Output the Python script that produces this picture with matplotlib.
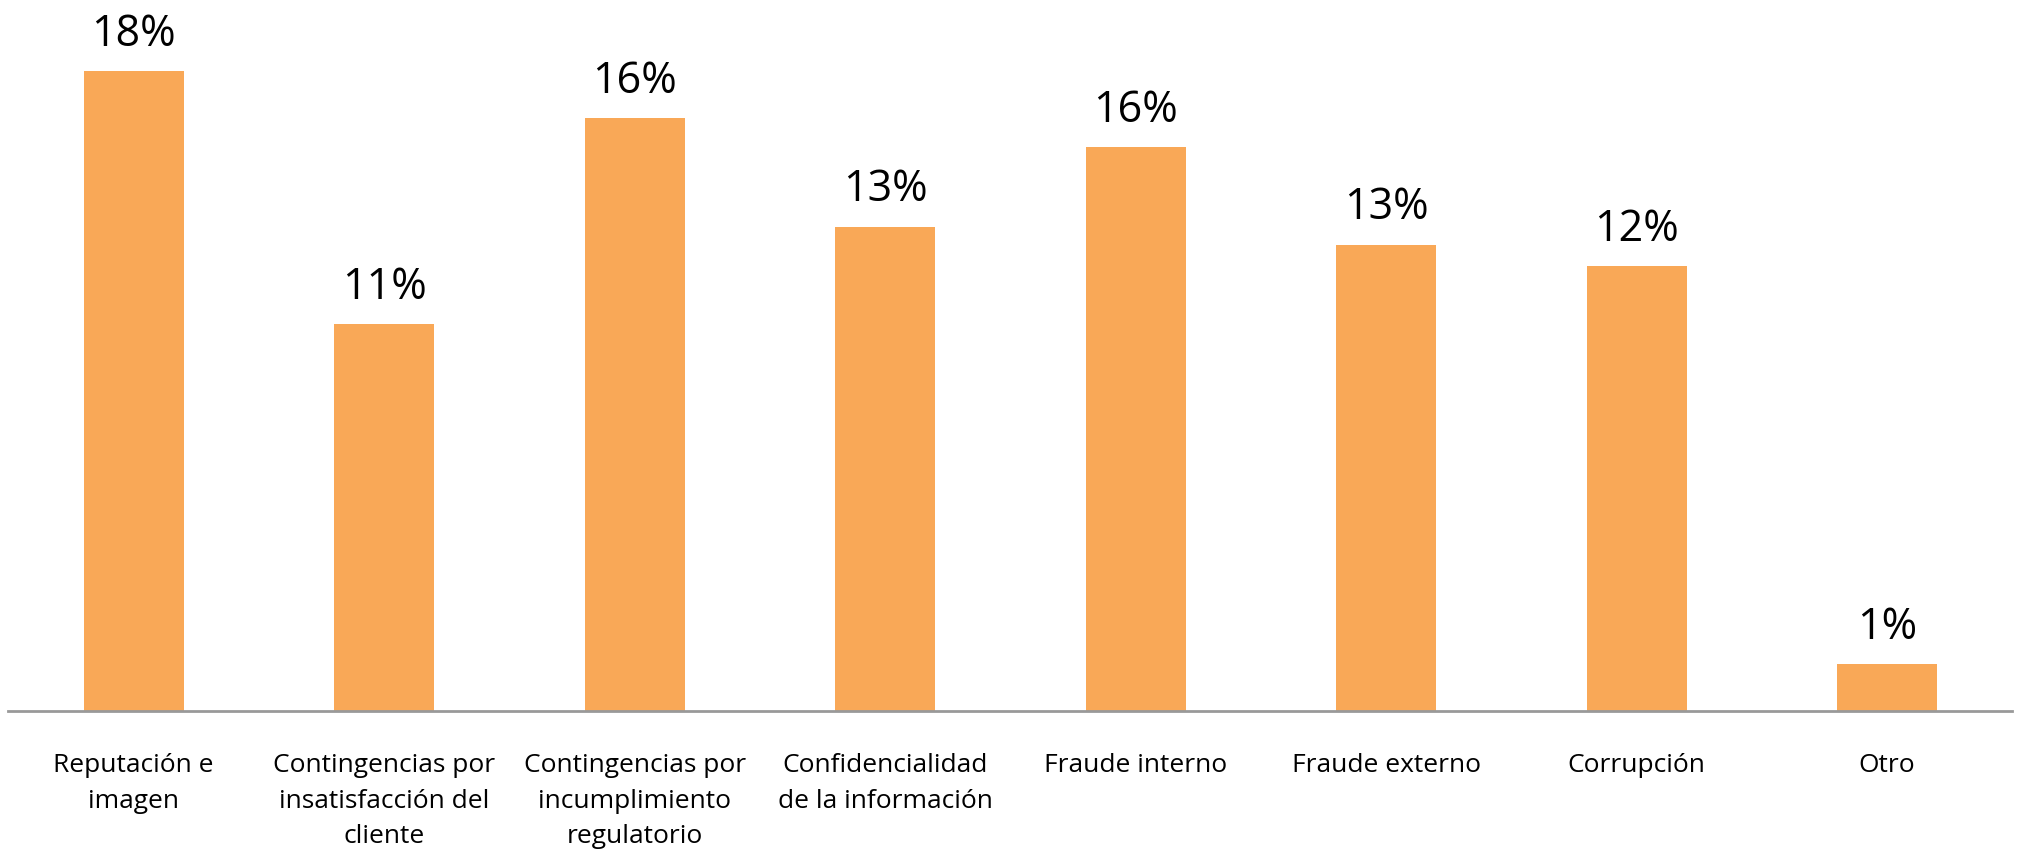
import matplotlib
matplotlib.use("Agg")
import matplotlib.pyplot as plt

categories = ["Reputación e\nimagen",
              "Contingencias por\ninsatisfacción del\ncliente",
              "Contingencias por\nincumplimiento\nregulatorio",
              "Confidencialidad\nde la información",
              "Fraude interno",
              "Fraude externo",
              "Corrupción",
              "Otro"]
values = [17.7, 10.7, 16.4, 13.4, 15.6, 12.9, 12.3, 1.3]

plt.rcParams['font.family'] = ['Open Sans', 'DejaVu Sans']

fig = plt.figure(figsize=(20.18, 8.53), dpi=100)
ax = fig.add_axes([0.0042, 0.1655, 0.9930, 0.8310])

x = list(range(len(values)))
bars = ax.bar(x, values, width=0.4, color="#F9A857", zorder=2)

for xi, v in zip(x, values):
    ax.annotate(f"{round(v)}%", (xi, v), xytext=(0, 11), textcoords="offset points",
                ha="center", va="bottom", fontsize=31, color="black")

ax.set_xlim(-0.5, len(values) - 0.5)
ax.set_ylim(0, 19.62)
ax.set_xticks(x)
ax.set_xticklabels(categories, fontsize=19, linespacing=1.55)
ax.tick_params(axis="x", length=0, pad=30)
ax.set_yticks([])
for s in ["top", "right", "left"]:
    ax.spines[s].set_visible(False)
ax.spines["bottom"].set_color("#999999")
ax.spines["bottom"].set_linewidth(2)

fig.savefig("out.png", dpi=100)
